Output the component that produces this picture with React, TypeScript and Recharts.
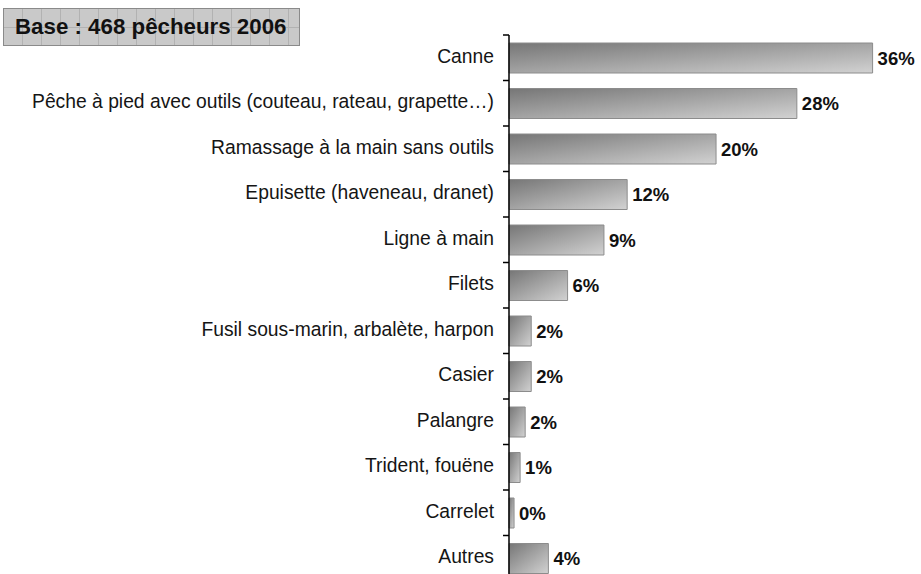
import { BarChart, Bar, XAxis, YAxis, LabelList } from "recharts";

// Engins utilisés par les pêcheurs à pied — base 468 pêcheurs (2006).

const categories = [
  "Canne",
  "Pêche à pied avec outils (couteau, rateau, grapette…)",
  "Ramassage à la main sans outils",
  "Epuisette (haveneau, dranet)",
  "Ligne à main",
  "Filets",
  "Fusil sous-marin, arbalète, harpon",
  "Casier",
  "Palangre",
  "Trident, fouëne",
  "Carrelet",
  "Autres",
];
const shares = [36, 28.5, 20.5, 11.7, 9.4, 5.8, 2.2, 2.2, 1.6, 1.1, 0.5, 3.9];
const shareLabels = ["36%", "28%", "20%", "12%", "9%", "6%", "2%", "2%", "2%", "1%", "0%", "4%"];

const rows = categories.map((name, i) => ({ name, value: shares[i], label: shareLabels[i] }));

const FONT = "'Liberation Sans', Arial, sans-serif";
const BAND = 45.5;

function CatTick(props: { x?: number; y?: number; payload?: { value: string } }) {
  const { x = 0, y = 0, payload } = props;
  return (
    <g>
      <line x1={x + 9} x2={x + 15} y1={y - BAND / 2} y2={y - BAND / 2} stroke="#000" strokeWidth={1.5} />
      <text x={x} y={y} dy={5} textAnchor="end" fontSize={19.3} fill="#151515" fontFamily={FONT}>
        {payload?.value}
      </text>
    </g>
  );
}

export default function App() {
  return (
    <div style={{ position: "absolute", left: 0, top: 0, width: 921, height: 574, overflow: "hidden", background: "#fff" }}>
      <div
        style={{
          position: "absolute", left: 3, top: 8, width: 297, height: 38,
          border: "1px solid #8a8a8a",
          backgroundColor: "#c9c9c9",
          backgroundImage:
            "repeating-linear-gradient(90deg, transparent 0 18px, #b2b2b2 18px 19px), linear-gradient(180deg, transparent 0 18px, #b2b2b2 18px 19px, transparent 19px)",
          fontFamily: FONT, fontWeight: "bold", fontSize: 22.3, color: "#111",
          display: "flex", alignItems: "center", paddingLeft: 11, boxSizing: "border-box",
        }}
      >
        Base : 468 pêcheurs 2006
      </div>
      <BarChart
        layout="vertical"
        width={921}
        height={600}
        data={rows}
        margin={{ top: 35, right: 8, bottom: 19, left: 0 }}
        barCategoryGap={0}
      >
        <defs>
          <linearGradient id="barFill" x1="0" y1="0" x2="1" y2="1">
            <stop offset="0%" stopColor="#767676" />
            <stop offset="100%" stopColor="#d2d2d2" />
          </linearGradient>
        </defs>
        <XAxis type="number" domain={[0, 40]} hide />
        <YAxis
          type="category"
          dataKey="name"
          width={509}
          axisLine={{ stroke: "#000", strokeWidth: 1.5 }}
          tickLine={false}
          tickMargin={9}
          interval={0}
          tick={<CatTick />}
        />
        <Bar dataKey="value" fill="url(#barFill)" stroke="#8c8c8c" strokeWidth={1} barSize={30} isAnimationActive={false}>
          <LabelList
            dataKey="label"
            position="right"
            offset={5}
            style={{ fontFamily: FONT, fontWeight: "bold", fontSize: 18.5, fill: "#111" }}
          />
        </Bar>
      </BarChart>
    </div>
  );
}
